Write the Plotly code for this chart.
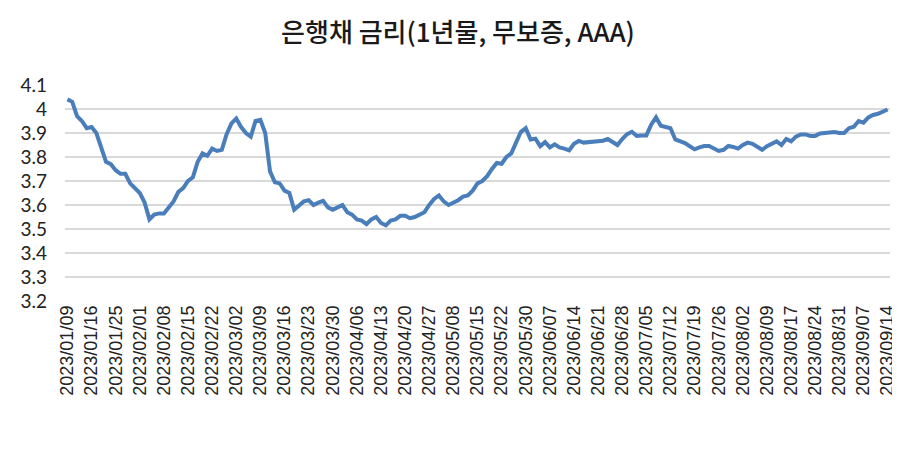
import pandas as pd
import plotly.graph_objects as go

# Korean market holidays in the period (business-day calendar)
holidays = ["2023-01-23", "2023-01-24", "2023-03-01", "2023-05-01",
            "2023-05-05", "2023-05-29", "2023-06-06", "2023-08-15"]
dates = pd.bdate_range("2023-01-09", "2023-09-14", freq="C", holidays=holidays)
categories = [d.strftime("%Y/%m/%d") for d in dates]

rates = [
    4.04, 4.03, 3.97, 3.95, 3.92, 3.925, 3.90, 3.84, 3.78, 3.77,
    3.745, 3.73, 3.73, 3.69, 3.67, 3.65, 3.61, 3.54, 3.56, 3.565,
    3.565, 3.59, 3.615, 3.655, 3.67, 3.70, 3.715, 3.78, 3.815, 3.805,
    3.835, 3.825, 3.83, 3.895, 3.94, 3.96, 3.925, 3.90, 3.885, 3.95,
    3.955, 3.90, 3.74, 3.695, 3.69, 3.66, 3.65, 3.58, 3.60, 3.615,
    3.62, 3.60, 3.61, 3.617, 3.59, 3.58, 3.59, 3.60, 3.57, 3.56,
    3.54, 3.535, 3.52, 3.54, 3.55, 3.525, 3.515, 3.535, 3.54, 3.555,
    3.555, 3.545, 3.55, 3.56, 3.57, 3.60, 3.625, 3.64, 3.615, 3.60,
    3.61, 3.62, 3.635, 3.64, 3.66, 3.69, 3.70, 3.72, 3.75, 3.775,
    3.772, 3.80, 3.815, 3.865, 3.905, 3.92, 3.873, 3.876, 3.845, 3.862,
    3.84, 3.853, 3.84, 3.835, 3.828, 3.855, 3.867, 3.86, 3.862, 3.86,
    3.862, 3.868, 3.875, 3.86, 3.85, 3.875, 3.895, 3.905, 3.888, 3.89,
    3.89, 3.935, 3.965, 3.93, 3.925, 3.92, 3.873, 3.865, 3.858, 3.845,
    3.832, 3.84, 3.846, 3.846, 3.835, 3.825, 3.83, 3.846, 3.842, 3.835,
    3.85, 3.86, 3.855, 3.84, 3.83, 3.845, 3.855, 3.865, 3.85, 3.875,
    3.865, 3.885, 3.894, 3.894, 3.888, 3.888, 3.898, 3.90, 3.902, 3.904,
    3.90, 3.90, 3.92, 3.926, 3.95, 3.943, 3.965, 3.975, 3.98, 3.99,
    3.998,
]

n = min(len(categories), len(rates))
categories = categories[:n]
rates = rates[:n]

tick_labels = categories[::5]
y_ticks = [3.2, 3.3, 3.4, 3.5, 3.6, 3.7, 3.8, 3.9, 4.0, 4.1]
y_tick_text = ["3.2", "3.3", "3.4", "3.5", "3.6", "3.7", "3.8", "3.9", "4", "4.1"]

fig = go.Figure()
fig.add_trace(go.Scatter(
    x=categories, y=rates, mode="lines",
    line=dict(color="#4a7ebb", width=4),
    hoverinfo="x+y",
))

fig.update_layout(
    width=900, height=450,
    margin=dict(l=57, r=18, t=77, b=157),
    paper_bgcolor="white", plot_bgcolor="white",
    showlegend=False,
    title=dict(
        text="은행채 금리(1년물, 무보증, AAA)",
        x=0.5, xanchor="center", y=0.945, yanchor="middle",
        font=dict(family="Noto Sans CJK KR", size=26, color="#1a1a1a", weight=500),
    ),
    xaxis=dict(
        type="category",
        range=[-0.5, n - 0.5],
        tickmode="array", tickvals=tick_labels, ticktext=tick_labels,
        tickangle=-90,
        tickfont=dict(family="Liberation Sans", size=18, color="#222222"),
        showgrid=False, showline=False, zeroline=False,
        ticks="",
    ),
    yaxis=dict(
        range=[3.2, 4.1],
        tickmode="array", tickvals=y_ticks, ticktext=y_tick_text,
        tickfont=dict(family="Lato", size=19, color="#222222"),
        showgrid=True, gridcolor="#d9d9d9", gridwidth=1.5,
        zeroline=False, showline=False, ticks="",
        ticklabelstandoff=17,
    ),
)

fig.write_html("out.html")
